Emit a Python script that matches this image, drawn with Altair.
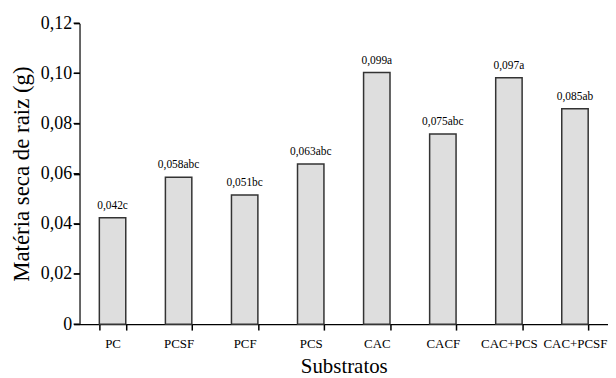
import altair as alt
import pandas as pd

categories = ["PC", "PCSF", "PCF", "PCS", "CAC", "CACF", "CAC+PCS", "CAC+PCSF"]
heights = [0.0424, 0.0586, 0.0515, 0.0638, 0.1003, 0.0758, 0.0982, 0.0859]
labels = ["0,042c", "0,058abc", "0,051bc", "0,063abc", "0,099a", "0,075abc", "0,097a", "0,085ab"]
y_ticks = [0, 0.02, 0.04, 0.06, 0.08, 0.10, 0.12]

df = pd.DataFrame({"cat": categories, "val": heights, "lab": labels})
ticks_df = pd.DataFrame({"t": y_ticks})

FONT = "Liberation Serif"
W, H = 532, 303

axis_common = dict(
    ticks=True,
    tickSize=6,
    tickWidth=1.5,
    tickColor="#000000",
    tickOpacity=1,
    domain=True,
    domainColor="black",
    domainWidth=1.2,
    grid=False,
    labelFont=FONT,
    labelColor="black",
    labelFontWeight="normal",
    titleFont=FONT,
    titleFontWeight="normal",
    titleColor="black",
)

x_enc = alt.X(
    "cat:N",
    sort=categories,
    scale=alt.Scale(paddingInner=0.6, paddingOuter=0.3),
    axis=alt.Axis(
        title="Substratos",
        labelAngle=0,
        labelFontSize=13,
        labelPadding=8,
        tickBand="extent",
        tickExtra=True,
        titleFontSize=21,
        titlePadding=5,
        **axis_common,
    ),
)

y_enc = alt.Y(
    "val:Q",
    scale=alt.Scale(domain=[0, 0.12], nice=False),
    axis=alt.Axis(
        title="Matéria seca de raiz (g)",
        values=y_ticks,
        labelExpr="datum.value == 0 ? '0' : replace(format(datum.value, '.2f'), '.', ',')",
        labelFontSize=18,
        labelPadding=2,
        titleFontSize=23,
        titleX=-58,
        titleY=H / 2,
        titleAngle=-90,
        titleBaseline="middle",
        titleAlign="center",
        **axis_common,
    ),
)

base = alt.Chart(df).encode(x=x_enc, y=y_enc)

bars = base.mark_bar(fill="#dedede", stroke="#333333", strokeWidth=1.5)

text = base.mark_text(
    font=FONT, fontSize=11.5, color="black", baseline="bottom", dy=-7
).encode(text="lab:N")

# explicit y tick marks drawn through the y scale
ytick_marks = alt.Chart(ticks_df).mark_rule(color="black", strokeWidth=1.2).encode(
    y=alt.Y("t:Q"),
    x=alt.value(-6),
    x2=alt.value(0),
)

chart = (
    alt.layer(bars, text, ytick_marks)
    .properties(
        width=W,
        height=H,
        autosize=alt.AutoSizeParams(type="none"),
        padding={"left": 72, "top": 14, "right": 0, "bottom": 53},
    )
    .configure(font=FONT)
    .configure_view(stroke=None, clip=False)
)

chart.save("out.html", embed_options={"renderer": "svg", "actions": False})
